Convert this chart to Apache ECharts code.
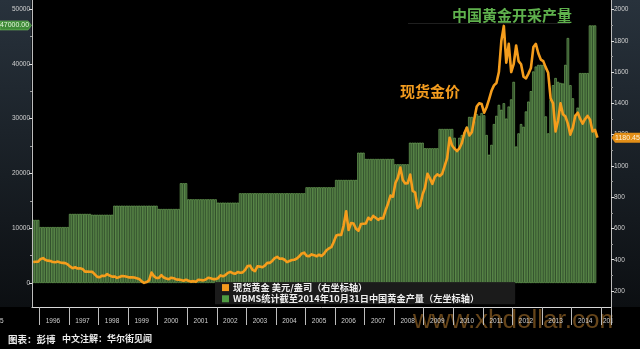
<!DOCTYPE html>
<html>
<head>
<meta charset="utf-8">
<script src="https://cdn.jsdelivr.net/npm/echarts@6/dist/echarts.min.js"></script>
<style>
  html, body { margin: 0; padding: 0; background: #000; }
  #chart { width: 640px; height: 349px; }
</style>
</head>
<body>
<div id="chart"></div>
<script>
// Monthly axis: first month Oct 1995, axis runs through Apr 2015
const firstYear = 1995;
const firstMonth = 10;
const axisMonths = 235;

const yearLabels = ['1996', '1997', '1998', '1999', '2000', '2001', '2002', '2003', '2004',
  '2005', '2006', '2007', '2008', '2009', '2010', '2011', '2012', '2013', '2014'];

const priceName = '现货黄金 美元/盎司（右坐标轴）';
const outputName = 'WBMS统计截至2014年10月31日中国黄金产量（左坐标轴）';

// Spot gold, USD/oz, Oct 1995 .. Nov 2014
const goldPrice = [
  385, 387, 388,
  405, 410, 398, 394, 392, 385, 384, 388, 382, 380, 378, 370,
  356, 346, 352, 344, 345, 341, 324, 325, 323, 322, 306, 290,
  289, 298, 296, 308, 299, 292, 293, 284, 290, 296, 294, 291,
  287, 288, 286, 282, 277, 262, 252, 257, 268, 318, 295, 283,
  284, 302, 286, 280, 275, 285, 282, 274, 273, 270, 266, 272,
  266, 260, 263, 259, 272, 270, 268, 273, 285, 282, 276, 276,
  282, 300, 294, 302, 316, 322, 314, 310, 321, 317, 319, 335,
  360, 362, 335, 327, 358, 356, 352, 362, 380, 380, 392, 410,
  418, 406, 408, 400, 385, 392, 398, 400, 408, 422, 440, 445,
  424, 423, 434, 429, 422, 432, 424, 438, 460, 472, 480, 515,
  555, 560, 558, 620, 710, 590, 635, 632, 598, 585, 628, 630,
  632, 668, 655, 680, 668, 655, 666, 664, 715, 758, 810, 803,
  890, 925, 990, 910, 888, 890, 945, 840, 830, 730, 745, 816,
  860, 950, 920, 885, 930, 946, 935, 950, 1000, 1050, 1180, 1130,
  1110, 1095, 1113, 1148, 1210, 1245, 1195, 1215, 1300, 1380, 1400, 1395,
  1340, 1375, 1425, 1480, 1515, 1530, 1600, 1800, 1895, 1660, 1780, 1600,
  1650, 1770, 1670, 1650, 1570, 1560, 1590, 1626, 1760, 1780, 1720, 1680,
  1670, 1630, 1595, 1430, 1400, 1220, 1290, 1400, 1330, 1316, 1270, 1200,
  1244, 1320, 1340, 1300, 1270, 1300, 1320, 1296, 1220, 1230, 1180.45
];

// China mine output (WBMS), kg per month, Oct 1995 .. Oct 2014
const chinaOutput = [
  11500, 11500, 11500,
  10200, 10200, 10200, 10200, 10200, 10200, 10200, 10200, 10200, 10200, 10200, 10200,
  12600, 12600, 12600, 12600, 12600, 12600, 12600, 12600, 12600, 12450, 12450, 12450,
  12450, 12450, 12450, 12450, 12450, 12450, 14100, 14100, 14100, 14100, 14100, 14100,
  14100, 14100, 14100, 14100, 14100, 14100, 14100, 14100, 14100, 14100, 14100, 14100,
  13500, 13500, 13500, 13500, 13500, 13500, 13500, 13500, 13500, 18200, 18200, 18200,
  15270, 15270, 15270, 15270, 15270, 15270, 15270, 15270, 15270, 15270, 15270, 15270,
  14660, 14660, 14660, 14660, 14660, 14660, 14660, 14660, 14660, 16370, 16370, 16370,
  16370, 16370, 16370, 16370, 16370, 16370, 16370, 16370, 16370, 16370, 16370, 16370,
  16370, 16370, 16370, 16370, 16370, 16370, 16370, 16370, 16370, 16370, 16370, 16370,
  17460, 17460, 17460, 17460, 17460, 17460, 17460, 17460, 17460, 17460, 17460, 17460,
  18800, 18800, 18800, 18800, 18800, 18800, 18800, 18800, 18800, 23780, 23780, 23780,
  22630, 22630, 22630, 22630, 22630, 22630, 22630, 22630, 22630, 22630, 22630, 22630,
  21660, 21660, 21660, 21660, 21660, 21660, 25600, 25600, 25600, 25600, 25600, 25600,
  24580, 24580, 24580, 24580, 24580, 24580, 28100, 28100, 28100, 28100, 28100, 28100,
  26500, 24000, 26500, 27000, 27500, 28500, 30300, 30300, 29500, 30800, 30500, 31000,
  30600, 27000, 23400, 25200, 29000, 30500, 32500, 31600, 32800, 30000, 32200, 33500,
  36700, 24900, 27300, 29000, 28500, 31300, 33100, 35000, 38600, 39500, 39800, 39800,
  39800, 30400, 27300, 33400, 36100, 37400, 36700, 36500, 36400, 39800, 44700, 36100,
  33700, 30700, 32000, 38300, 38300, 38300, 38300, 47000, 47000, 47000
];

const leftTicks = [0, 10000, 20000, 30000, 40000, 50000];
const leftMinorTicks = [5000, 15000, 25000, 35000, 45000];
const rightTicks = [200, 400, 600, 800, 1000, 1200, 1400, 1600, 1800, 2000];
const rightMinorTicks = [300, 500, 700, 900, 1100, 1300, 1500, 1700, 1900];

// month categories "YYYY-MM"
const months = [];
for (let i = 0; i < axisMonths; i++) {
  const m0 = firstMonth - 1 + i;
  const y = firstYear + Math.floor(m0 / 12);
  const m = (m0 % 12) + 1;
  months.push(y + '-' + (m < 10 ? '0' + m : '' + m));
}

const axisGrey = '#bdbdbd';
const labelGrey = '#d0d0d0';
const numFont = 'Liberation Sans';
const cjkFont = 'Noto Sans CJK SC';
const plain = v => String(v);

const chart = echarts.init(document.getElementById('chart'), null, { renderer: 'canvas' });

const leftRange = { min: -4380, max: 51642 };
const rightRange = { min: 97.7, max: 2060.7 };

chart.setOption({
  animation: false,
  backgroundColor: '#000',
  textStyle: { fontFamily: numFont },
  grid: { left: 32, right: 29, top: 0, bottom: 42, containLabel: false },
  legend: {
    orient: 'vertical',
    left: 215,
    top: 282,
    padding: [1, 36, 1, 7],
    itemGap: 2,
    itemWidth: 7,
    itemHeight: 7,
    selectedMode: false,
    backgroundColor: 'rgba(30,30,30,0.9)',
    textStyle: { color: '#f0f0f0', fontSize: 9.2, fontWeight: 'bold', fontFamily: cjkFont, padding: [0, 0, 0, -1] },
    data: [
      { name: priceName, icon: 'rect', itemStyle: { color: '#f39a1e', borderWidth: 0 } },
      { name: outputName, icon: 'rect', itemStyle: { color: '#4f9c42', borderWidth: 0 } }
    ]
  },
  xAxis: {
    type: 'category',
    data: months,
    boundaryGap: true,
    axisLine: { show: true, onZero: false, lineStyle: { color: '#d8d8d8', width: 1 } },
    axisTick: {
      show: true,
      length: 18,
      interval: (i, v) => v.slice(5) === '01',
      lineStyle: { color: axisGrey, width: 1 }
    },
    axisLabel: {
      interval: (i, v) => v.slice(5) === '06' && yearLabels.indexOf(v.slice(0, 4)) >= 0,
      formatter: v => v.slice(0, 4),
      color: labelGrey,
      fontSize: 6.5,
      margin: 11
    },
    splitLine: { show: false }
  },
  yAxis: [
    {
      type: 'value', position: 'left', ...leftRange, z: 5,
      axisLine: { show: true, onZero: false, lineStyle: { color: axisGrey } },
      axisTick: { show: true, length: 3, customValues: leftTicks, lineStyle: { color: '#e0e0e0' } },
      axisLabel: { customValues: leftTicks, formatter: plain, color: labelGrey, fontSize: 6.5, margin: 2 },
      splitLine: { show: false }
    },
    {
      type: 'value', position: 'right', ...rightRange, z: 5,
      axisLine: { show: true, onZero: false, lineStyle: { color: axisGrey } },
      axisTick: { show: true, length: 3, customValues: rightTicks, lineStyle: { color: '#e0e0e0' } },
      axisLabel: { customValues: rightTicks, formatter: plain, color: labelGrey, fontSize: 6.5, margin: 3 },
      splitLine: { show: false }
    },
    {
      type: 'value', position: 'left', ...leftRange, z: 5,
      axisLine: { show: false },
      axisTick: { show: true, length: 2, customValues: leftMinorTicks, lineStyle: { color: '#9a9a9a' } },
      axisLabel: { show: false },
      splitLine: { show: false }
    },
    {
      type: 'value', position: 'right', ...rightRange, z: 5,
      axisLine: { show: false },
      axisTick: { show: true, length: 2, customValues: rightMinorTicks, lineStyle: { color: '#9a9a9a' } },
      axisLabel: { show: false },
      splitLine: { show: false }
    }
  ],
  series: [
    {
      name: outputName,
      type: 'bar',
      yAxisIndex: 0,
      data: chinaOutput,
      barCategoryGap: '0%',
      silent: true,
      z: 2,
      itemStyle: { color: '#2f4b2a', borderColor: '#78b662', borderWidth: 0.6 }
    },
    {
      name: priceName,
      type: 'line',
      yAxisIndex: 1,
      data: goldPrice,
      showSymbol: false,
      silent: true,
      z: 3,
      lineStyle: { color: '#f59d1c', width: 2.6, join: 'round' }
    }
  ]
});

// value tags on both axes, side panels and captions
const lastPrice = goldPrice[goldPrice.length - 1];
const peakOutput = Math.max.apply(null, chinaOutput);
const yPrice = chart.convertToPixel({ yAxisIndex: 1 }, lastPrice);
const yOutput = chart.convertToPixel({ yAxisIndex: 0 }, peakOutput);
const plotBottom = 307;

const panelFill = {
  type: 'linear', x: 0, y: 0, x2: 0, y2: 1,
  colorStops: [{ offset: 0, color: '#28323c' }, { offset: 1, color: '#0c0f12' }]
};

chart.setOption({
  graphic: [
    { type: 'rect', z: -10, silent: true, shape: { x: 0, y: 0, width: 31.5, height: plotBottom }, style: { fill: panelFill } },
    { type: 'rect', z: -10, silent: true, shape: { x: 611.5, y: 0, width: 28.5, height: plotBottom }, style: { fill: panelFill } },
    // year labels at the cut edges of the time axis
    { type: 'text', z: 1, silent: true, x: 3.5, y: 321,
      style: { text: '1995', fill: labelGrey, font: '6.5px "Liberation Sans"', align: 'right', verticalAlign: 'middle' } },
    { type: 'text', z: 1, silent: true, x: 603, y: 321,
      style: { text: '2015', fill: labelGrey, font: '6.5px "Liberation Sans"', align: 'left', verticalAlign: 'middle' } },
    { type: 'rect', z: 2, silent: true, shape: { x: 612.5, y: 310, width: 27.5, height: 22 }, style: { fill: '#000' } },
    // annotations
    { type: 'line', z: 1, silent: true, shape: { x1: 408, y1: 23.5, x2: 570, y2: 23.5 },
      style: { stroke: 'rgba(255,255,255,0.12)', lineWidth: 1 } },
    { type: 'text', z: 20, silent: true, x: 512, y: 15,
      style: { text: '中国黄金开采产量', fill: '#5fb14d', font: 'bold 15px "Noto Sans CJK SC"', align: 'center', verticalAlign: 'middle' } },
    { type: 'text', z: 20, silent: true, x: 400, y: 91,
      style: { text: '现货金价', fill: '#f39c1f', font: 'bold 15px "Noto Sans CJK SC"', align: 'left', verticalAlign: 'middle' } },
    // left tag: latest output
    { type: 'polygon', z: 30, silent: true,
      shape: { points: [[0, yOutput - 4.5], [28, yOutput - 4.5], [31.5, yOutput], [28, yOutput + 4.5], [0, yOutput + 4.5]] },
      style: { fill: '#3e8a37', stroke: '#72c163', lineWidth: 0.6 } },
    { type: 'text', z: 31, silent: true, x: 14.5, y: yOutput,
      style: { text: peakOutput.toFixed(2), fill: '#e6f7df', font: '7px "Liberation Sans"', align: 'center', verticalAlign: 'middle' } },
    // right tag: latest price
    { type: 'polygon', z: 30, silent: true,
      shape: { points: [[611.5, yPrice], [615, yPrice - 5], [640, yPrice - 5], [640, yPrice + 5], [615, yPrice + 5]] },
      style: { fill: '#e28e17' } },
    { type: 'text', z: 31, silent: true, x: 627.5, y: yPrice,
      style: { text: lastPrice.toFixed(2), fill: '#fff2da', font: '7px "Liberation Sans"', align: 'center', verticalAlign: 'middle' } },
    // watermark
    { type: 'text', z: 0, silent: true, x: 413, y: 321,
      style: { text: 'www.xhdollar.com', fill: 'rgba(165,112,42,0.62)', font: '26px "Liberation Sans"', align: 'left', verticalAlign: 'middle' } },
    // source line
    { type: 'text', z: 20, silent: true, x: 8, y: 339,
      style: { text: '图表：彭博', fill: '#ececec', font: 'bold 9.5px "Noto Sans CJK SC"', align: 'left', verticalAlign: 'middle' } },
    { type: 'text', z: 20, silent: true, x: 62, y: 339,
      style: { text: '中文注解：华尔街见闻', fill: '#ececec', font: 'bold 9px "Noto Sans CJK SC"', align: 'left', verticalAlign: 'middle' } }
  ]
});
</script>
</body>
</html>
